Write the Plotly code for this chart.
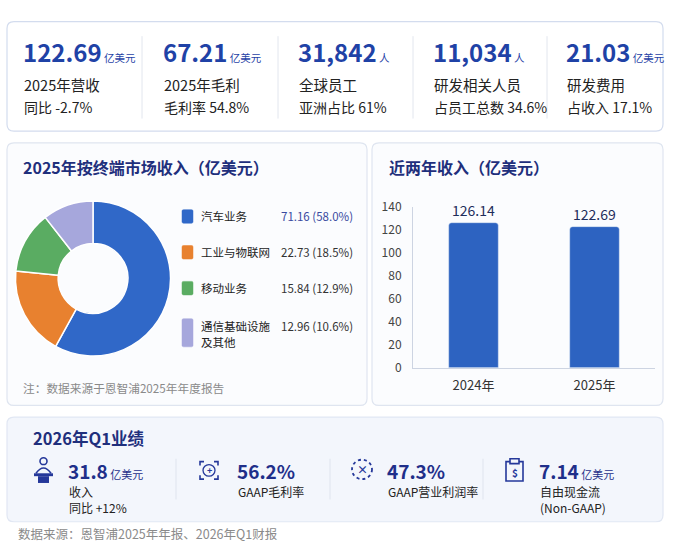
import plotly.graph_objects as go

W, H = 675, 552

# ---------------- data ----------------
kpi_values = ["122.69", "67.21", "31,842", "11,034", "21.03"]
kpi_units = ["亿美元", "亿美元", "人", "人", "亿美元"]
kpi_labels = ["2025年营收", "2025年毛利", "全球员工", "研发相关人员", "研发费用"]
kpi_notes = ["同比 -2.7%", "毛利率 54.8%", "亚洲占比 61%", "占员工总数 34.6%", "占收入 17.1%"]

segments = ["汽车业务", "工业与物联网", "移动业务", "通信基础设施及其他"]
segment_values = [71.16, 22.73, 15.84, 12.96]

years = ["2024年", "2025年"]
revenue = [126.14, 122.69]

q1_values = ["31.8", "56.2%", "47.3%", "7.14"]
q1_units = ["亿美元", "", "", "亿美元"]
q1_labels = ["收入", "GAAP毛利率", "GAAP营业利润率", "自由现金流"]
q1_notes = ["同比 +12%", "", "", "(Non-GAAP)"]

# ---------------- style ----------------
FONT = "Noto Sans CJK SC"
NAVY = "#1f2f7c"
BLUE_NUM = "#1f42a6"
TXT = "#222222"
GRAY = "#8a8a8a"
seg_colors = ["#3068c8", "#e8812f", "#5aac62", "#a6a7dc"]


def X(p):
    return p / W


def Y(p):
    return 1 - p / H


def rrect(x0, y0, x1, y1, r, fill, line, lw=1):
    rx, ry = r, r
    d = (f"M {X(x0+rx)},{Y(y0)} L {X(x1-rx)},{Y(y0)} Q {X(x1)},{Y(y0)} {X(x1)},{Y(y0+ry)} "
         f"L {X(x1)},{Y(y1-ry)} Q {X(x1)},{Y(y1)} {X(x1-rx)},{Y(y1)} "
         f"L {X(x0+rx)},{Y(y1)} Q {X(x0)},{Y(y1)} {X(x0)},{Y(y1-ry)} "
         f"L {X(x0)},{Y(y0+ry)} Q {X(x0)},{Y(y0)} {X(x0+rx)},{Y(y0)} Z")
    return dict(type="path", path=d, xref="paper", yref="paper", fillcolor=fill,
                line=dict(color=line, width=lw), layer="below")


def line(x0, y0, x1, y1, color="#e3e7ef", width=1):
    return dict(type="line", xref="paper", yref="paper", x0=X(x0), y0=Y(y0), x1=X(x1), y1=Y(y1),
                line=dict(color=color, width=width), layer="below")


shapes = []
ann = []


def text(x, y, t, size, color=TXT, anchor="left", bold=False, vanchor="middle"):
    if bold:
        t = f"<b>{t}</b>"
    ann.append(dict(x=X(x), y=Y(y), xref="paper", yref="paper", text=t, showarrow=False,
                    xanchor=anchor, yanchor=vanchor, borderpad=0,
                    font=dict(family=FONT, size=size, color=color)))


# panels
shapes.append(rrect(7, 12, 663, 125, 7, "#ffffff", "#d3dcee", 1.2))
shapes.append(rrect(7, 137, 367, 408, 7, "#fbfcfe", "#dfe5f0", 1.2))
shapes.append(rrect(372, 137, 663, 408, 7, "#fbfcfe", "#dfe5f0", 1.2))
shapes.append(rrect(7, 420, 663, 528, 7, "#f3f6fc", "#e1e7f3", 1.2))

# ---------------- top KPIs ----------------
kpi_x = [23, 163, 298, 433, 566]
for i, xv in enumerate(kpi_x):
    t = (f"<b>{kpi_values[i]}</b><span style='font-size:10.5px'> {kpi_units[i]}</span>")
    text(xv - 1, 43, t, 24, BLUE_NUM)
    text(xv, 77, kpi_labels[i], 14.5, TXT)
    text(xv, 100, kpi_notes[i], 14, TXT)
for xd in [142, 278, 413, 547]:
    shapes.append(line(xd, 27, xd, 112, "#e2e6ee"))

# ---------------- pie panel ----------------
text(22, 162, "2025年按终端市场收入（亿美元）", 16, NAVY, bold=True)
total = sum(segment_values)
leg_y = [213, 250, 287, 333]
for i, s in enumerate(segments):
    hh = 7 if i < 3 else 14.5
    shapes.append(rrect(182, leg_y[i] - hh, 193, leg_y[i] + hh, 1.5, seg_colors[i], seg_colors[i], 0.5))
    pct = segment_values[i] / total * 100
    vcol = "#3a4aa0" if i == 0 else "#333333"
    if i < 3:
        text(200, leg_y[i], s, 11.5, TXT)
        text(354, leg_y[i], f"{segment_values[i]:.2f} ({pct:.1f}%)", 11.5, vcol, anchor="right")
    else:
        text(200, 326, s[:6], 11.5, TXT)
        text(200, 343, s[6:], 11.5, TXT)
        text(354, 326, f"{segment_values[i]:.2f} ({pct:.1f}%)", 11.5, vcol, anchor="right")
text(22, 390, "注：数据来源于恩智浦2025年年度报告", 11.7, GRAY)

# ---------------- bar panel ----------------
text(388, 162, "近两年收入（亿美元）", 16, NAVY, bold=True)

# ---------------- Q1 panel ----------------
text(32, 442, "2026年Q1业绩", 16.5, NAVY, bold=True)
q1_x = [68, 237, 387, 539]
for i, xv in enumerate(q1_x):
    u = f"<span style='font-size:11px'> {q1_units[i]}</span>" if q1_units[i] else ""
    text(xv - 1, 475, f"<b>{q1_values[i]}</b>{u}", 19, "#1f2f8a")
    text(xv, 497, q1_labels[i], 12, TXT)
    if q1_notes[i]:
        text(xv, 513, q1_notes[i], 12, TXT)
for xd in [176, 330, 483]:
    shapes.append(line(xd, 463, xd, 505, "#dfe4ee"))

IC = "#25389a"
# icon 1: person at podium
shapes.append(dict(type="circle", xref="paper", yref="paper", x0=X(40), x1=X(47), y0=Y(462), y1=Y(469),
                   line=dict(color=IC, width=1.6)))
shapes.append(dict(type="path", xref="paper", yref="paper",
                   path=f"M {X(36)},{Y(478)} Q {X(43.5)},{Y(467)} {X(51)},{Y(478)}",
                   line=dict(color=IC, width=1.6)))
shapes.append(dict(type="rect", xref="paper", yref="paper", x0=X(34), x1=X(53), y0=Y(478), y1=Y(481),
                   fillcolor=IC, line=dict(width=0)))
shapes.append(dict(type="rect", xref="paper", yref="paper", x0=X(38), x1=X(49), y0=Y(481), y1=Y(488),
                   fillcolor=IC, line=dict(width=0)))
# icon 2: frame with plus
shapes.append(dict(type="path", xref="paper", yref="paper",
                   path=(f"M {X(200)},{Y(470)} L {X(200)},{Y(466)} L {X(204)},{Y(466)} "
                         f"M {X(214)},{Y(466)} L {X(218)},{Y(466)} L {X(218)},{Y(470)} "
                         f"M {X(218)},{Y(480)} L {X(218)},{Y(484)} L {X(214)},{Y(484)} "
                         f"M {X(204)},{Y(484)} L {X(200)},{Y(484)} L {X(200)},{Y(480)}"),
                   line=dict(color=IC, width=1.6)))
shapes.append(dict(type="circle", xref="paper", yref="paper", x0=X(203), x1=X(215), y0=Y(469), y1=Y(481),
                   line=dict(color=IC, width=1.3)))
text(209, 475, "+", 9, IC, anchor="center", bold=True)
# icon 3: dashed ring with x
shapes.append(dict(type="circle", xref="paper", yref="paper", x0=X(352), x1=X(372), y0=Y(464), y1=Y(484),
                   line=dict(color=IC, width=1.8, dash="dot")))
text(362, 474, "×", 11, IC, anchor="center", bold=True)
# icon 4: clipboard
shapes.append(dict(type="rect", xref="paper", yref="paper", x0=X(506), x1=X(523), y0=Y(466), y1=Y(486),
                   line=dict(color=IC, width=1.6)))
shapes.append(dict(type="rect", xref="paper", yref="paper", x0=X(510), x1=X(519), y0=Y(463), y1=Y(468),
                   fillcolor="#f3f6fc", line=dict(color=IC, width=1.6)))
text(514.5, 477, "$", 10, IC, anchor="center", bold=True)

text(17, 540, "数据来源：恩智浦2025年年报、2026年Q1财报", 12.5, GRAY)

# ---------------- traces ----------------
fig = go.Figure()
fig.add_trace(go.Pie(labels=segments, values=segment_values, hole=0.45, sort=False,
                     direction="clockwise", rotation=0, textinfo="none", showlegend=False,
                     marker=dict(colors=seg_colors, line=dict(color="white", width=1.5)),
                     domain=dict(x=[X(13), X(173)], y=[Y(357), Y(197)])))
fig.add_trace(go.Bar(x=years, y=revenue, width=0.41, marker_color="#2d63c1",
                     text=[f"{v:.2f}" for v in revenue], textposition="outside", cliponaxis=False,
                     textfont=dict(family=FONT, size=14, color="#1f2d5c"), showlegend=False))

fig.update_layout(
    width=W, height=H, margin=dict(l=0, r=0, t=0, b=0),
    paper_bgcolor="#ffffff", plot_bgcolor="rgba(0,0,0,0)",
    font=dict(family=FONT),
    barcornerradius=3,
    xaxis=dict(domain=[X(413), X(655)], range=[-0.5, 1.5], showline=True, linecolor="#cdd4e2",
               showgrid=False, ticks="", tickfont=dict(family=FONT, size=13, color="#333333"),
               ticklabelstandoff=6, fixedrange=True),
    yaxis=dict(domain=[Y(369), Y(203)], range=[0, 140], dtick=20, showline=True, linecolor="#cdd4e2",
               showgrid=False, zeroline=False, ticks="", tickfont=dict(family=FONT, size=12, color="#444444"),
               ticklabelstandoff=8, fixedrange=True),
    shapes=shapes, annotations=ann,
)

fig.write_html("out.html", config={"displayModeBar": False},
               post_script="document.body.style.margin='0';")
